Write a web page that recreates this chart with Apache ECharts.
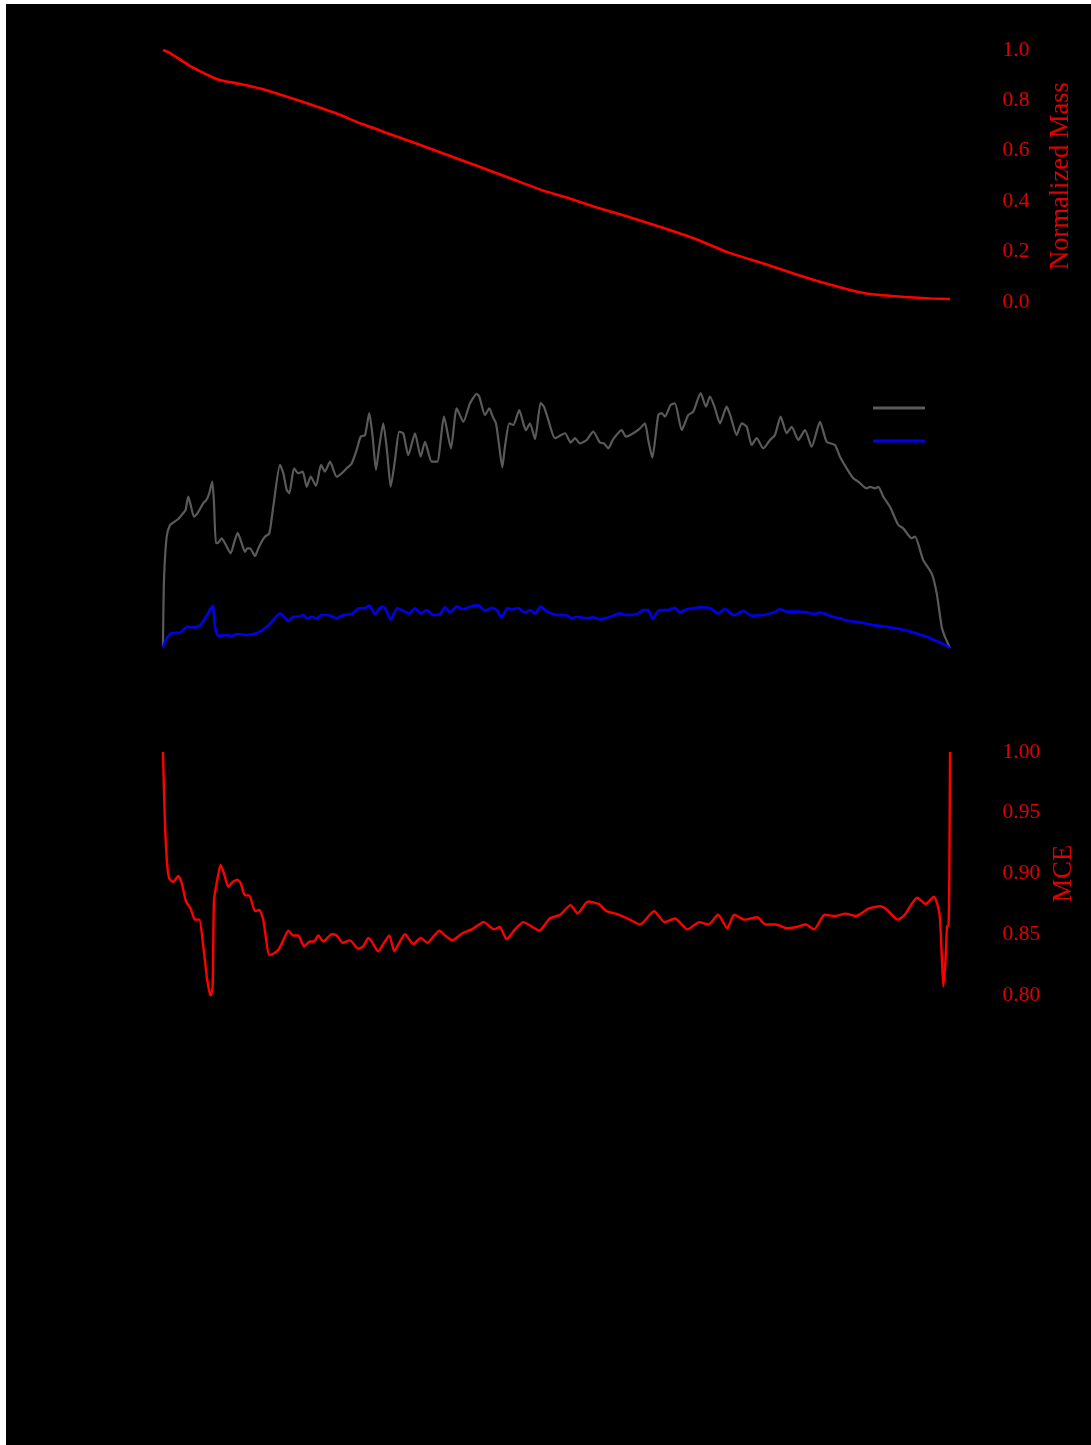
<!DOCTYPE html>
<html>
<head>
<meta charset="utf-8">
<script src="https://cdn.jsdelivr.net/npm/echarts@6/dist/echarts.min.js"></script>
<style>
  html, body { margin: 0; padding: 0; background: #ffffff; }
  #chart { position: absolute; left: 6px; top: 4px; width: 1085px; height: 1441px; background: #000; }
</style>
</head>
<body>
<div id="chart"></div>
<script>
// Panel 1: normalized mass along the run
const massX = [0, 0.9, 3.4, 6.2, 7.2, 9.8, 12.6, 15.5, 18.2, 21.9, 25.3, 28.8, 32.7, 35.8, 39.6, 44.7, 48.5, 51.1, 54.9, 58.8, 63.2, 67.7, 71.7, 76.5, 80.3, 83.6, 87.3, 89.8, 94.3, 97.5, 100];
const massY = [1.000, 0.988, 0.937, 0.893, 0.881, 0.865, 0.845, 0.817, 0.790, 0.750, 0.706, 0.667, 0.623, 0.587, 0.544, 0.484, 0.440, 0.417, 0.377, 0.341, 0.298, 0.250, 0.198, 0.151, 0.111, 0.079, 0.048, 0.032, 0.020, 0.014, 0.012];
const massTicks = [0, 0.2, 0.4, 0.6, 0.8, 1.0];

// Panel 2: gray profile
const grayX = [0, 0.13, 0.47, 0.89, 1.31, 1.94, 2.58, 2.88, 3.21, 3.52, 3.94, 4.49, 5.12, 5.46, 5.88, 6.26, 6.48, 6.73, 7.03, 7.46, 8.00, 8.60, 9.02, 9.49, 9.87, 10.42, 10.71, 11.05, 11.69, 12.11, 12.54, 12.96, 13.51, 14.01, 14.87, 15.29, 15.72, 16.05, 16.65, 17.19, 17.75, 18.26, 18.77, 19.44, 20.08, 20.58, 21.22, 22.07, 22.71, 23.34, 23.98, 24.61, 25.12, 25.67, 26.21, 26.64, 27.06, 27.48, 27.99, 28.50, 28.93, 29.48, 30.02, 30.53, 31.17, 32.02, 32.74, 33.29, 34.14, 34.85, 35.70, 36.59, 37.32, 38.16, 39.01, 39.86, 40.19, 40.91, 41.46, 41.89, 42.31, 42.73, 43.11, 43.45, 44.00, 44.51, 45.27, 45.78, 46.12, 46.63, 47.27, 47.99, 48.41, 48.96, 49.81, 51.08, 51.80, 52.35, 52.98, 53.84, 54.67, 55.52, 56.03, 56.58, 57.21, 58.28, 58.83, 59.76, 60.61, 61.24, 61.66, 62.17, 62.93, 63.36, 63.78, 64.51, 65.05, 65.91, 66.74, 67.38, 68.32, 68.99, 69.50, 70.14, 70.77, 71.62, 72.13, 72.89, 73.53, 74.17, 74.80, 75.44, 76.27, 77.13, 77.76, 78.48, 79.25, 79.88, 80.72, 81.57, 82.42, 83.48, 84.33, 85.38, 86.02, 86.87, 87.71, 88.34, 89.41, 89.83, 90.47, 90.89, 91.52, 92.37, 93.43, 94.06, 95.13, 95.55, 96.60, 97.67, 98.31, 98.94, 99.36, 100];
const grayY = [0.005, 0.262, 0.428, 0.473, 0.482, 0.496, 0.519, 0.531, 0.582, 0.550, 0.505, 0.524, 0.557, 0.567, 0.595, 0.640, 0.558, 0.403, 0.405, 0.422, 0.396, 0.364, 0.403, 0.443, 0.415, 0.370, 0.383, 0.383, 0.354, 0.383, 0.409, 0.428, 0.441, 0.543, 0.704, 0.672, 0.608, 0.595, 0.691, 0.672, 0.678, 0.620, 0.659, 0.623, 0.704, 0.678, 0.717, 0.659, 0.672, 0.691, 0.710, 0.762, 0.813, 0.819, 0.903, 0.813, 0.685, 0.774, 0.864, 0.749, 0.620, 0.723, 0.832, 0.826, 0.742, 0.826, 0.736, 0.793, 0.717, 0.717, 0.890, 0.768, 0.922, 0.870, 0.941, 0.977, 0.967, 0.896, 0.922, 0.890, 0.864, 0.774, 0.695, 0.774, 0.864, 0.858, 0.915, 0.864, 0.838, 0.864, 0.803, 0.943, 0.928, 0.877, 0.807, 0.826, 0.790, 0.807, 0.787, 0.800, 0.832, 0.790, 0.787, 0.768, 0.803, 0.838, 0.813, 0.826, 0.845, 0.864, 0.800, 0.732, 0.896, 0.903, 0.890, 0.935, 0.941, 0.838, 0.896, 0.909, 0.980, 0.928, 0.967, 0.922, 0.864, 0.928, 0.890, 0.819, 0.864, 0.851, 0.781, 0.807, 0.768, 0.800, 0.819, 0.890, 0.826, 0.851, 0.800, 0.838, 0.774, 0.870, 0.793, 0.781, 0.736, 0.691, 0.653, 0.640, 0.614, 0.620, 0.614, 0.620, 0.582, 0.543, 0.473, 0.460, 0.422, 0.428, 0.338, 0.287, 0.210, 0.082, 0.043, 0.000];

// Panel 2: blue profile
const blueX = [0, 0.47, 1.10, 2.16, 3.09, 3.77, 4.70, 5.46, 6.31, 6.61, 7.03, 8.09, 8.73, 9.36, 10.63, 11.91, 12.96, 13.81, 14.87, 15.92, 16.56, 17.19, 17.83, 18.26, 18.89, 19.53, 20.16, 21.00, 22.07, 22.91, 23.98, 24.94, 25.67, 26.21, 26.94, 27.79, 28.21, 28.93, 29.77, 30.53, 31.29, 32.02, 32.74, 33.51, 34.34, 35.20, 35.83, 36.47, 37.32, 38.16, 39.01, 40.06, 40.91, 41.76, 42.40, 43.03, 43.75, 44.31, 45.14, 46.00, 46.63, 47.27, 47.99, 48.83, 50.02, 51.29, 51.93, 52.56, 53.84, 54.67, 55.52, 56.80, 58.07, 58.70, 60.19, 61.03, 61.66, 62.17, 63.06, 64.20, 65.05, 65.69, 66.54, 67.38, 68.23, 69.50, 70.56, 71.41, 72.26, 72.68, 73.73, 74.80, 76.27, 77.55, 78.40, 79.25, 80.52, 81.79, 82.63, 83.48, 85.17, 86.02, 87.29, 88.56, 90.25, 91.95, 93.64, 95.33, 97.03, 98.31, 99.36, 100];
const blueY = [0.003, 0.037, 0.057, 0.059, 0.082, 0.080, 0.086, 0.120, 0.162, 0.082, 0.046, 0.050, 0.046, 0.054, 0.050, 0.057, 0.076, 0.101, 0.133, 0.105, 0.120, 0.120, 0.127, 0.114, 0.120, 0.114, 0.127, 0.127, 0.114, 0.127, 0.130, 0.153, 0.153, 0.164, 0.131, 0.159, 0.153, 0.110, 0.153, 0.143, 0.133, 0.153, 0.133, 0.146, 0.127, 0.130, 0.157, 0.137, 0.159, 0.149, 0.159, 0.164, 0.143, 0.155, 0.146, 0.117, 0.153, 0.149, 0.153, 0.136, 0.146, 0.133, 0.159, 0.140, 0.127, 0.126, 0.114, 0.120, 0.114, 0.118, 0.110, 0.120, 0.133, 0.127, 0.130, 0.146, 0.146, 0.112, 0.146, 0.146, 0.155, 0.137, 0.149, 0.153, 0.157, 0.153, 0.133, 0.151, 0.130, 0.127, 0.143, 0.124, 0.127, 0.136, 0.149, 0.140, 0.140, 0.137, 0.131, 0.136, 0.120, 0.114, 0.103, 0.099, 0.088, 0.082, 0.073, 0.060, 0.043, 0.027, 0.012, 0.000];

// Panel 3: MCE
const mceX = [0, 0.25, 0.55, 0.80, 1.31, 1.94, 2.38, 2.92, 3.52, 4.07, 4.61, 5.12, 5.63, 6.06, 6.31, 6.48, 6.82, 7.33, 7.75, 8.30, 8.86, 9.44, 9.87, 10.42, 10.97, 11.69, 12.24, 12.74, 13.51, 14.01, 14.65, 15.29, 15.92, 16.56, 17.19, 17.92, 18.68, 19.19, 19.73, 20.37, 21.44, 22.07, 22.83, 23.76, 24.81, 25.45, 26.09, 26.52, 27.36, 27.99, 28.75, 29.39, 30.02, 30.75, 31.80, 32.74, 33.58, 34.34, 35.11, 35.83, 36.76, 38.09, 39.24, 40.74, 42.07, 42.78, 43.66, 44.73, 45.78, 46.94, 47.81, 49.15, 50.47, 51.79, 52.68, 54.00, 55.33, 56.39, 57.98, 59.31, 60.63, 62.40, 63.73, 65.05, 66.64, 68.15, 69.30, 70.54, 71.69, 72.58, 73.90, 75.49, 76.56, 77.88, 79.21, 80.53, 81.67, 82.74, 84.06, 85.40, 86.72, 88.05, 89.64, 91.14, 92.03, 93.35, 94.24, 95.83, 96.89, 97.95, 98.66, 98.92, 99.15, 99.43, 99.62, 99.81, 99.91, 100];
const mceY = [1.000, 0.941, 0.906, 0.896, 0.893, 0.898, 0.892, 0.877, 0.871, 0.862, 0.862, 0.840, 0.812, 0.799, 0.807, 0.878, 0.892, 0.907, 0.900, 0.889, 0.893, 0.895, 0.892, 0.882, 0.882, 0.869, 0.870, 0.862, 0.833, 0.834, 0.837, 0.845, 0.853, 0.849, 0.849, 0.840, 0.844, 0.844, 0.849, 0.844, 0.850, 0.849, 0.843, 0.845, 0.838, 0.840, 0.847, 0.844, 0.836, 0.842, 0.849, 0.836, 0.843, 0.850, 0.842, 0.847, 0.843, 0.848, 0.853, 0.849, 0.845, 0.851, 0.854, 0.860, 0.854, 0.856, 0.846, 0.854, 0.860, 0.856, 0.853, 0.863, 0.866, 0.874, 0.867, 0.877, 0.875, 0.869, 0.866, 0.862, 0.858, 0.869, 0.860, 0.863, 0.854, 0.860, 0.858, 0.866, 0.855, 0.866, 0.862, 0.864, 0.858, 0.858, 0.855, 0.856, 0.858, 0.854, 0.866, 0.865, 0.867, 0.865, 0.871, 0.873, 0.870, 0.862, 0.866, 0.880, 0.875, 0.881, 0.867, 0.837, 0.807, 0.829, 0.856, 0.858, 0.895, 1.000];
const mceTicks = [0.80, 0.85, 0.90, 0.95, 1.00];

const pairs = (xs, ys) => xs.map((x, i) => [x, ys[i]]);

const RED = '#ff0000';
const LABEL_RED = '#e00000';
const GRAY = '#5a5a5a';
const BLUE = '#0000ee';
const FONT = '"Liberation Serif", "Times New Roman", serif';

const gridBase = { left: 125.5, width: 850, outerBoundsMode: 'none' };
const hiddenX = (gi) => ({
  type: 'value', gridIndex: gi, min: -4, max: 104,
  show: false, splitLine: { show: false }
});
const rightAxis = (gi, ticks, step, digits, title) => ({
  type: 'value', gridIndex: gi, position: 'right',
  min: ticks[0], max: ticks[ticks.length - 1], interval: step,
  name: title, nameLocation: 'middle', nameGap: 66, nameRotate: 90,
  nameTextStyle: { color: LABEL_RED, fontFamily: FONT, fontSize: 26.5 },
  axisLine: { show: false }, axisTick: { show: false }, splitLine: { show: false },
  axisLabel: { color: LABEL_RED, fontFamily: FONT, fontSize: 21.5, margin: 21,
               padding: [6, 0, 0, 0], formatter: v => v.toFixed(digits) }
});

const chart = echarts.init(document.getElementById('chart'), null, { renderer: 'canvas' });
chart.setOption({
  backgroundColor: '#000000',
  animation: false,
  grid: [
    Object.assign({ top: 46, height: 252 }, gridBase),
    Object.assign({ top: 384, height: 260 }, gridBase),
    Object.assign({ top: 748, height: 243 }, gridBase)
  ],
  xAxis: [hiddenX(0), hiddenX(1), hiddenX(2)],
  yAxis: [
    rightAxis(0, massTicks, 0.2, 1, 'Normalized Mass'),
    { type: 'value', gridIndex: 1, min: 0, max: 1, show: false, splitLine: { show: false } },
    rightAxis(2, mceTicks, 0.05, 2, 'MCE')
  ],
  legend: {
    orient: 'vertical', left: 867, top: 402.5, padding: 0,
    icon: 'rect', itemWidth: 52, itemHeight: 3, itemGap: 30,
    data: [
      { name: 'upper profile', itemStyle: { color: GRAY } },
      { name: 'lower profile', itemStyle: { color: BLUE } }
    ],
    formatter: () => '',
    textStyle: { color: '#000' }
  },
  series: [
    {
      name: 'Normalized Mass', type: 'line', xAxisIndex: 0, yAxisIndex: 0,
      data: pairs(massX, massY), symbol: 'none', smooth: 0.15,
      lineStyle: { color: RED, width: 2.6 }
    },
    {
      name: 'upper profile', type: 'line', xAxisIndex: 1, yAxisIndex: 1,
      data: pairs(grayX, grayY), symbol: 'none', smooth: 0.2,
      color: GRAY, lineStyle: { color: GRAY, width: 2.2 }
    },
    {
      name: 'lower profile', type: 'line', xAxisIndex: 1, yAxisIndex: 1,
      data: pairs(blueX, blueY), symbol: 'none', smooth: 0.2,
      color: BLUE, lineStyle: { color: BLUE, width: 2.6 }
    },
    {
      name: 'MCE', type: 'line', xAxisIndex: 2, yAxisIndex: 2,
      data: pairs(mceX, mceY), symbol: 'none', smooth: 0.2,
      lineStyle: { color: RED, width: 2.4 }
    }
  ]
});
</script>
</body>
</html>
